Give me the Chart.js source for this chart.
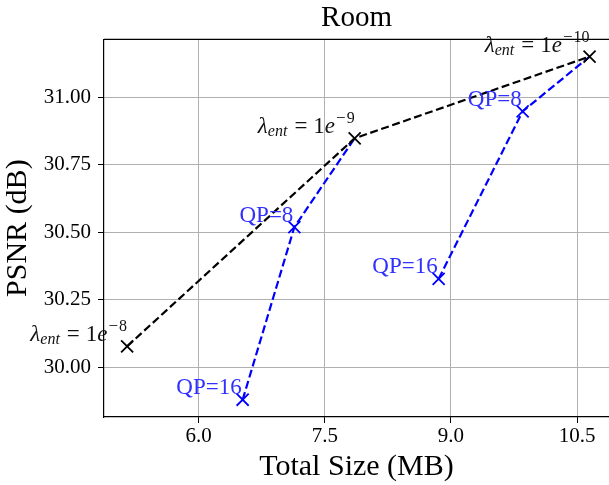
<!DOCTYPE html>
<html lang="en">
<head>
    <meta charset="UTF-8">
    <title>Room - PSNR vs Total Size</title>
    <script src="https://cdn.jsdelivr.net/npm/chart.js"></script>
    <style>
        html, body { margin: 0; padding: 0; background: #fff; overflow: hidden; }
        .wrap { position: relative; width: 609px; height: 485px; }
    </style>
</head>
<body>
    <div class="wrap"><canvas id="roomChart"></canvas></div>

    <script>
        // --- Data ---
        const entX = [5.149, 7.855, 10.649];          // lambda_ent sweep, total size (MB)
        const entY = [30.077, 30.848, 31.151];        // PSNR (dB)
        const entExp = ['8', '9', '10'];

        const qpLowX = [6.523, 7.138, 7.855];         // QP sweep ending at lambda=1e-9
        const qpLowY = [29.879, 30.519, 30.848];
        const qpHighX = [8.854, 9.853, 10.649];       // QP sweep ending at lambda=1e-10
        const qpHighY = [30.327, 30.948, 31.151];
        const qpLabels = ['QP=16', 'QP=8'];

        const xTicks = [6.0, 7.5, 9.0, 10.5];
        const yTicks = [30.00, 30.25, 30.50, 30.75, 31.00];
        const xRange = [4.874, 10.88];
        const yRange = [29.815, 31.215];

        const SERIF = "'Liberation Serif', 'Times New Roman', serif";
        const BLUE = '#0000ff';
        const toPoints = (xs, ys) => xs.map((x, i) => ({ x: x, y: ys[i] }));

        Chart.defaults.font.family = SERIF;
        Chart.defaults.color = '#000';

        // top spine + annotations, drawn over the lines
        const annotate = {
            id: 'annotate',
            afterDatasetsDraw(chart) {
                const { ctx, chartArea, scales: { x, y } } = chart;
                ctx.save();
                ctx.strokeStyle = '#000';
                ctx.lineWidth = 1.2;
                ctx.beginPath();
                ctx.moveTo(chartArea.left, chartArea.top);
                ctx.lineTo(chartArea.right, chartArea.top);
                ctx.stroke();

                // QP labels
                ctx.fillStyle = '#3030ff';
                ctx.font = '23px ' + SERIF;
                ctx.textAlign = 'right';
                ctx.textBaseline = 'alphabetic';
                [[qpLowX, qpLowY], [qpHighX, qpHighY]].forEach(([xs, ys]) => {
                    qpLabels.forEach((txt, i) => {
                        ctx.fillText(txt, x.getPixelForValue(xs[i]) - 1, y.getPixelForValue(ys[i]) - 5.5);
                    });
                });

                // lambda_ent labels: λ_ent = 1e^{-n}
                ctx.fillStyle = '#111';
                ctx.textAlign = 'left';
                entX.forEach((v, i) => {
                    const parts = [
                        { t: '\u03bb', f: 'italic 23px ', dy: 0, gap: 0 },
                        { t: 'ent', f: 'italic 16px ', dy: 3, gap: 7 },
                        { t: '=', f: '23px ', dy: 0, gap: 6 },
                        { t: '1', f: '23px ', dy: 0, gap: 0 },
                        { t: 'e', f: 'italic 23px ', dy: 0, gap: 1 },
                        { t: '\u2212', f: '17px ', dy: -10, gap: 1 },
                        { t: entExp[i], f: '16px ', dy: -10, gap: 0 }
                    ];
                    let total = 0;
                    parts.forEach(p => { ctx.font = p.f + SERIF; p.w = ctx.measureText(p.t).width; total += p.w + p.gap; });
                    let px = x.getPixelForValue(v) - total;
                    const py = y.getPixelForValue(entY[i]) - 5;
                    parts.forEach(p => {
                        ctx.font = p.f + SERIF;
                        ctx.fillText(p.t, px, py + p.dy);
                        px += p.w + p.gap;
                    });
                });
                ctx.restore();
            }
        };

        const lineStyle = (color) => ({
            showLine: true,
            borderColor: color,
            backgroundColor: color,
            borderWidth: 2.2,
            borderDash: [8, 3.6],
            tension: 0,
            pointStyle: 'crossRot',
            pointBorderColor: color,
            pointBorderWidth: 1.8,
            pointHoverRadius: 0
        });

        new Chart(document.getElementById('roomChart'), {
            type: 'scatter',
            data: {
                datasets: [
                    Object.assign({ label: 'lambda_ent', data: toPoints(entX, entY), pointRadius: 8.5 }, lineStyle('#000')),
                    Object.assign({ label: 'QP low', data: toPoints(qpLowX, qpLowY),
                        pointRadius: c => c.dataIndex < qpLabels.length ? 8.5 : 0 }, lineStyle(BLUE)),
                    Object.assign({ label: 'QP high', data: toPoints(qpHighX, qpHighY),
                        pointRadius: c => c.dataIndex < qpLabels.length ? 8.5 : 0 }, lineStyle(BLUE))
                ]
            },
            options: {
                responsive: true,
                maintainAspectRatio: false,
                animation: false,
                events: [],
                layout: { padding: 0, autoPadding: false },
                plugins: {
                    legend: { display: false },
                    tooltip: { enabled: false },
                    title: {
                        display: true,
                        text: 'Room',
                        fullSize: false,
                        color: '#000',
                        font: { size: 29, weight: 'normal', family: SERIF },
                        padding: { top: 1, bottom: 3.5 }
                    }
                },
                scales: {
                    x: {
                        type: 'linear',
                        min: xRange[0],
                        max: xRange[1],
                        afterBuildTicks: s => { s.ticks = xTicks.map(v => ({ value: v })); },
                        afterFit: s => { s.height = 68; s.paddingLeft = 0; s.paddingRight = 0; },
                        ticks: {
                            font: { size: 21 },
                            padding: 1,
                            maxRotation: 0,
                            callback: v => v.toFixed(1)
                        },
                        grid: { color: '#b0b0b0', lineWidth: 1, tickColor: '#000', tickLength: 6 },
                        border: { color: '#000', width: 1.2 },
                        title: {
                            display: true,
                            text: 'Total Size (MB)',
                            font: { size: 30 },
                            padding: { top: 0, bottom: 0 }
                        }
                    },
                    y: {
                        type: 'linear',
                        min: yRange[0],
                        max: yRange[1],
                        afterBuildTicks: s => { s.ticks = yTicks.map(v => ({ value: v })); },
                        afterFit: s => { s.width = 104; s.paddingTop = 0; s.paddingBottom = 0; },
                        ticks: {
                            font: { size: 21 },
                            padding: 7,
                            callback: v => v.toFixed(2)
                        },
                        grid: { color: '#b0b0b0', lineWidth: 1, tickColor: '#000', tickLength: 6 },
                        border: { color: '#000', width: 1.2 },
                        title: {
                            display: true,
                            text: 'PSNR (dB)',
                            font: { size: 30 },
                            padding: { top: 0, bottom: 0 }
                        }
                    }
                }
            },
            plugins: [annotate]
        });
    </script>
</body>
</html>
